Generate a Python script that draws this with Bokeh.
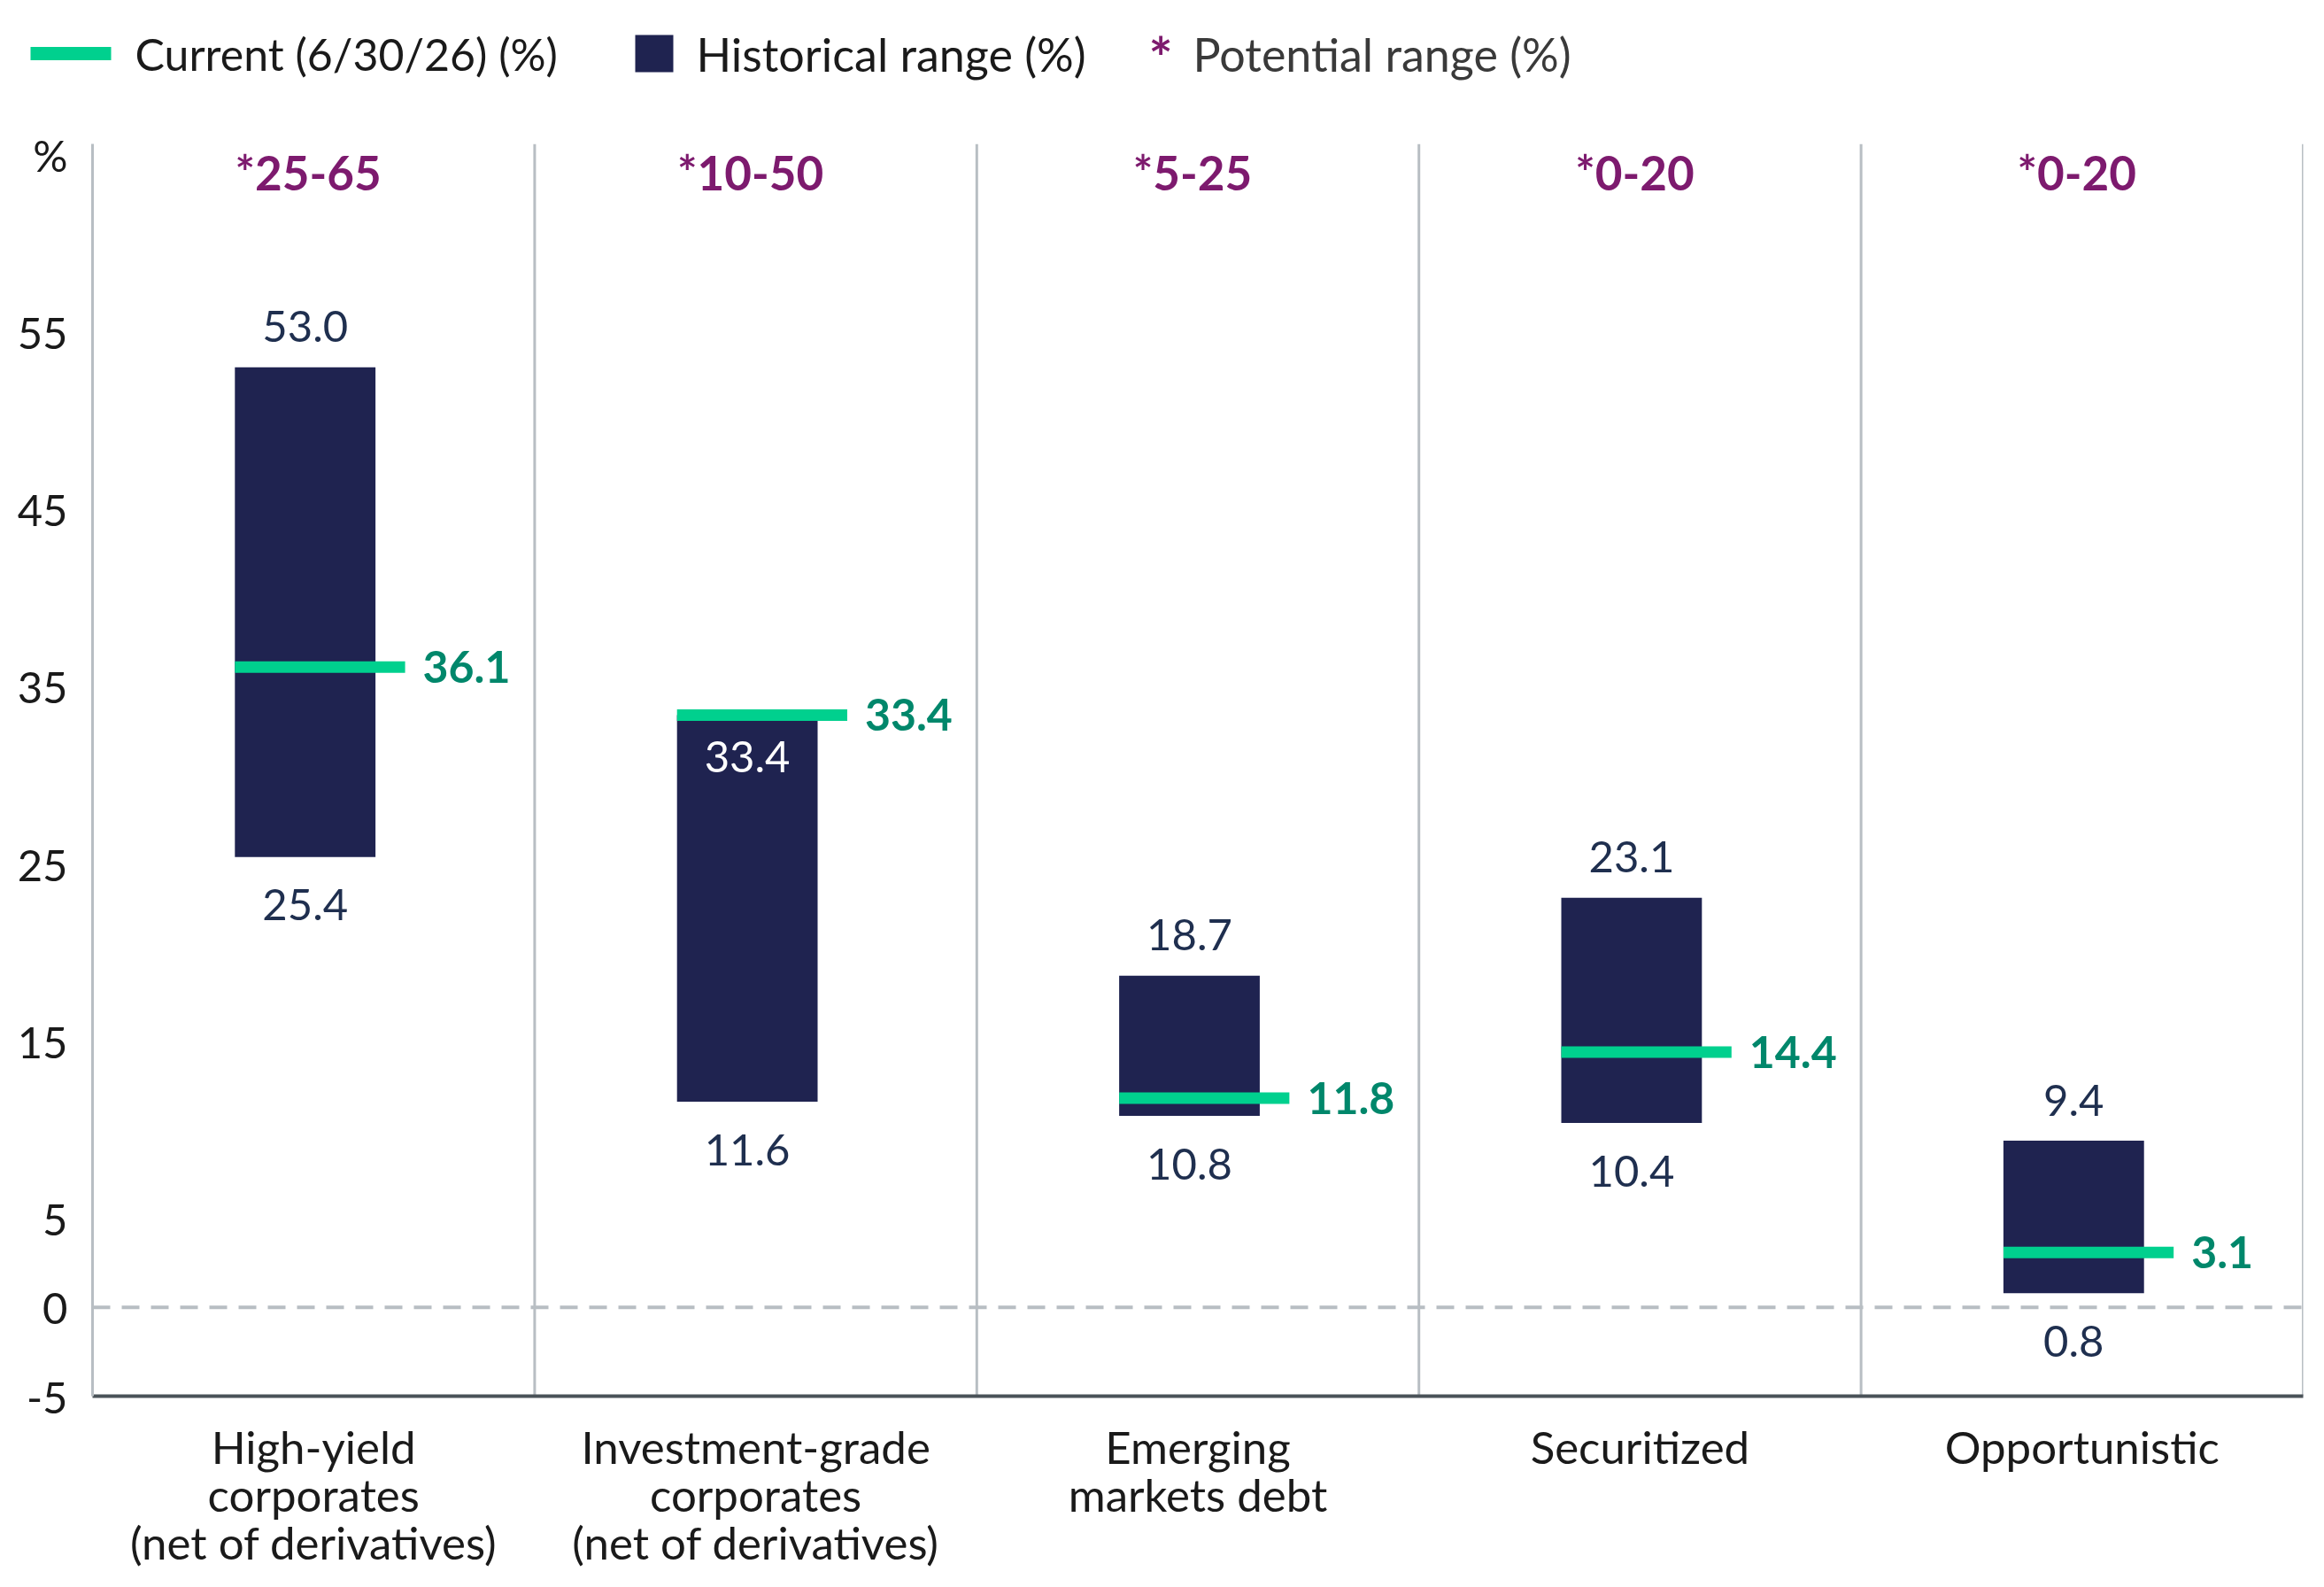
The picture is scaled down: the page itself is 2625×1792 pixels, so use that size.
from bokeh.plotting import figure
from bokeh.layouts import column, row
from bokeh.models import ColumnDataSource, Range1d, FixedTicker, Span, Label, Arrow
from bokeh.transform import dodge
from bokeh.core.properties import value
from bokeh.embed import file_html
from bokeh.resources import INLINE

# ---------------- data ----------------
categories = [
    "High-yield\ncorporates\n(net of derivatives)",
    "Investment-grade\ncorporates\n(net of derivatives)",
    "Emerging\nmarkets debt",
    "Securitized",
    "Opportunistic",
]
hist_low = [25.4, 11.6, 10.8, 10.4, 0.8]
hist_high = [53.0, 33.4, 18.7, 23.1, 9.4]
current = [36.1, 33.4, 11.8, 14.4, 3.1]
potential = ["*25-65", "*10-50", "*5-25", "*0-20", "*0-20"]
y_ticks = [-5, 0, 5, 15, 25, 35, 45, 55, 65]
y_tick_text = {-5: "-5", 65: "%"}
legend_labels = ["Current (6/30/26) (%)", "Historical range (%)", "Potential range (%)"]

# ---------------- styles ----------------
FONT = value("Lato")
NAVY = "#1f2350"
GREEN = "#00d08e"
GREEN_TXT = "#00876b"
PURPLE = "#7d1a6e"
LABEL_NAVY = "#1f2f4f"
GRAY = "#b8bec3"
AXIS_DARK = "#4a5258"
TEXT = "#1a1a1a"

BAR_W = 0.318
BAR_SHIFT = -0.019
LINE_EXT = 0.067
POT_SHIFT = -0.012
Y_START, Y_END = -5.0, 65.6
TOP_LABEL_Y = 64.0

W = 2620
FRAME_L = 104
FRAME_R_BORDER = 19
LEG_H = 130
MAIN_H = 1658
BORDER_TOP = 32
FRAME_H = 1414

# ---------------- legend figure (coordinates in page pixels) ----------------
lg = figure(width=W, height=LEG_H, x_range=Range1d(0, W), y_range=Range1d(LEG_H, 0),
            output_backend="svg", toolbar_location=None,
            x_axis_location=None, y_axis_location=None,
            min_border_left=0, min_border_right=0,
            min_border_top=0, min_border_bottom=0)
lg.grid.visible = False
lg.outline_line_color = None
ly = 60
lg.add_layout(Arrow(x_start=34, y_start=ly, x_end=125, y_end=ly, start=None, end=None,
                    line_color=GREEN, line_width=15, line_cap="butt"))
lg.add_layout(Arrow(x_start=717, y_start=ly, x_end=760, y_end=ly, start=None, end=None,
                    line_color=NAVY, line_width=42, line_cap="butt"))
lg.add_layout(Label(x=152, y=ly, text=legend_labels[0], text_font="Lato", text_font_size="50px",
                    text_color=TEXT, text_baseline="middle", text_align="left"))
lg.add_layout(Label(x=786, y=ly, text=legend_labels[1], text_font="Lato", text_font_size="52px",
                    text_color=TEXT, text_baseline="middle", text_align="left"))
lg.add_layout(Label(x=1297, y=ly + 4, text="*", text_font="Lato", text_font_size="64px",
                    text_font_style="bold", text_color=PURPLE, text_baseline="middle",
                    text_align="left"))
lg.add_layout(Label(x=1347, y=ly, text=legend_labels[2], text_font="Lato", text_font_size="52px",
                    text_color="#3a3a3a", text_baseline="middle", text_align="left"))

# ---------------- main figure ----------------
p = figure(width=W, height=MAIN_H, x_range=categories, y_range=Range1d(Y_START, Y_END),
           output_backend="svg", toolbar_location=None,
           min_border_left=FRAME_L, min_border_right=FRAME_R_BORDER,
           min_border_top=BORDER_TOP, min_border_bottom=MAIN_H - BORDER_TOP - FRAME_H)
p.outline_line_color = None
p.grid.visible = False
p.x_range.range_padding = 0

inside = [abs(c - h) < 1.5 for c, h in zip(current, hist_high)]
src = ColumnDataSource(dict(
    cat=categories, low=hist_low, high=hist_high, cur=current, pot=potential,
    hi_txt=[f"{v:.1f}" for v in hist_high],
    lo_txt=[f"{v:.1f}" for v in hist_low],
    cur_txt=[f"{v:.1f}" for v in current],
    hi_col=["#ffffff" if i else LABEL_NAVY for i in inside],
    hi_off=[47 if i else -46 for i in inside],
    ystart=[Y_START] * 5, yend=[Y_END] * 5, ytop=[TOP_LABEL_Y] * 5,
))

# column separators
p.segment(x0=dodge("cat", 0.5, range=p.x_range), y0="ystart",
          x1=dodge("cat", 0.5, range=p.x_range), y1="yend",
          source=src, line_color=GRAY, line_width=3)

# zero line
p.add_layout(Span(location=0, dimension="width", line_color=GRAY, line_width=4,
                  line_dash="20 13"))

# historical range bars
p.vbar(x=dodge("cat", BAR_SHIFT, range=p.x_range), bottom="low", top="high",
       width=BAR_W, source=src, fill_color=NAVY, line_color=None)

# current lines
p.segment(x0=dodge("cat", BAR_SHIFT - BAR_W / 2, range=p.x_range), y0="cur",
          x1=dodge("cat", BAR_SHIFT + BAR_W / 2 + LINE_EXT, range=p.x_range), y1="cur",
          source=src, line_color=GREEN, line_width=13, line_cap="butt")

# labels
p.text(x=dodge("cat", BAR_SHIFT + BAR_W / 2 + LINE_EXT, range=p.x_range), y="cur",
       text="cur_txt", source=src, x_offset=20, text_font=FONT, text_font_size="50px",
       text_font_style="bold", text_color=GREEN_TXT, text_baseline="middle", text_align="left")
p.text(x=dodge("cat", BAR_SHIFT, range=p.x_range), y="high", text="hi_txt", y_offset="hi_off",
       source=src, text_font=FONT, text_font_size="49px", text_color="hi_col",
       text_baseline="middle", text_align="center")
p.text(x=dodge("cat", BAR_SHIFT, range=p.x_range), y="low", text="lo_txt", y_offset=54,
       source=src, text_font=FONT, text_font_size="49px", text_color=LABEL_NAVY,
       text_baseline="middle", text_align="center")
p.text(x=dodge("cat", POT_SHIFT, range=p.x_range), y="ytop", text="pot", source=src,
       text_font=FONT, text_font_size="53px", text_font_style="bold", text_color=PURPLE,
       text_baseline="middle", text_align="center")

# axes
ya = p.yaxis[0]
ya.ticker = FixedTicker(ticks=y_ticks)
ya.major_label_overrides = y_tick_text
ya.axis_line_color = GRAY
ya.axis_line_width = 3
ya.major_tick_line_color = None
ya.minor_tick_line_color = None
ya.major_tick_out = 0
ya.major_label_standoff = 28
ya.major_label_text_font = "Lato"
ya.major_label_text_font_size = "49px"
ya.major_label_text_color = TEXT

xa = p.xaxis[0]
xa.axis_line_color = AXIS_DARK
xa.axis_line_width = 4
xa.major_tick_line_color = None
xa.minor_tick_line_color = None
xa.major_tick_out = 0
xa.major_label_standoff = 26
xa.major_label_text_font = "Lato"
xa.major_label_text_font_size = "51px"
xa.major_label_text_line_height = 0.89
xa.major_label_text_color = TEXT

layout = column(row(lg), p, spacing=0)
open("out.html", "w").write(file_html(layout, INLINE))
